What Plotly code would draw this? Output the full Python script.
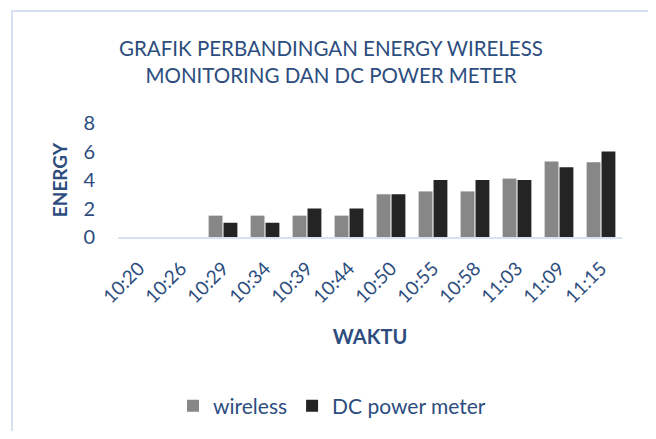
import plotly.graph_objects as go

categories = ["10:20", "10:26", "10:29", "10:34", "10:39", "10:44", "10:50", "10:55", "10:58", "11:03", "11:09", "11:15"]
wireless = [0, 0, 1.5, 1.5, 1.5, 1.5, 3.0, 3.2, 3.2, 4.1, 5.3, 5.25]
dc_power_meter = [0, 0, 1.0, 1.0, 2.0, 2.0, 3.0, 4.0, 4.0, 4.0, 4.9, 6.0]
y_ticks = [0, 2, 4, 6, 8]

OFF = 8  # page body margin
W, H = 642, 423
ML, MT = 118 - OFF, 123 - OFF
MR = (OFF + W) - 622
MB = (OFF + H) - 237
TXT = "#2c4d7e"
FONT = "Lato, Open Sans, sans-serif"

fig = go.Figure()
fig.add_trace(go.Bar(x=categories, y=wireless, name="wireless",
                     marker=dict(color="#878787", line=dict(width=0))))
fig.add_trace(go.Bar(x=categories, y=dc_power_meter, name="DC power meter",
                     marker=dict(color="#242424", line=dict(width=0))))

pw = W - ML - MR
ph = H - MT - MB
def px(x):
    return (x - OFF - ML) / pw
def py(y):
    return (H - MB - (y - OFF)) / ph

fig.update_layout(
    width=W, height=H,
    margin=dict(l=ML, r=MR, t=MT, b=MB, autoexpand=False),
    paper_bgcolor="white", plot_bgcolor="white",
    barmode="group", bargap=0.29, bargroupgap=0.07,
    font=dict(family=FONT, color=TXT),
    title=dict(text="GRAFIK PERBANDINGAN ENERGY WIRELESS<br>MONITORING DAN DC POWER METER",
               x=px(331), xref="paper", xanchor="center", y=1 - (56 - OFF) / H, yanchor="middle",
               font=dict(size=20.5, color=TXT, family=FONT)),
    xaxis=dict(type="category", tickangle=-45, tickfont=dict(size=19, color=TXT),
               showgrid=False, showline=True, linecolor="#d6e1f2", linewidth=2,
               ticks="outside", ticklen=11, tickcolor="rgba(0,0,0,0)",
               title=dict(text="<b>WAKTU</b>", font=dict(size=20, color=TXT), standoff=24)),
    yaxis=dict(range=[0, 8], tickvals=y_ticks, tickfont=dict(size=20, color=TXT),
               showgrid=False, zeroline=False, showline=False,
               ticks="outside", ticklen=18, tickcolor="rgba(0,0,0,0)",
               title=dict(text="<b>ENERGY</b>", font=dict(size=19, color=TXT), standoff=10)),
    legend=dict(orientation="h", x=px(332), xanchor="center", y=py(406), yanchor="middle",
                font=dict(size=21, color=TXT), itemwidth=30),
    shapes=[dict(type="rect", xref="paper", yref="paper",
                 x0=px(12), x1=px(649), y0=py(460), y1=py(11),
                 line=dict(color="#d6e1f2", width=2), fillcolor="rgba(0,0,0,0)", layer="below")],
)

fig.write_html("out.html")
